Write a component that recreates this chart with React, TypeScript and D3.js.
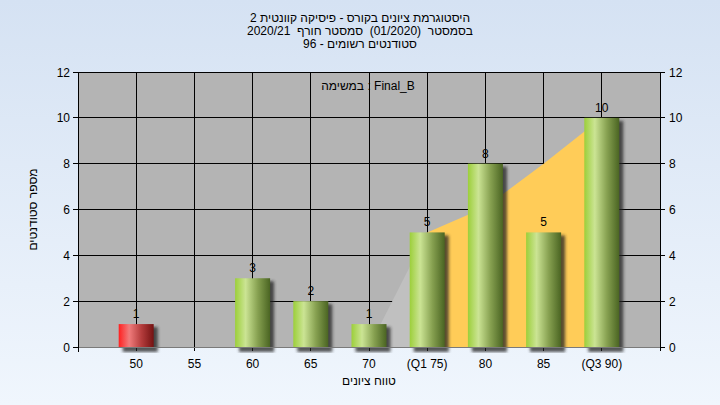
import React from "react";
import * as d3 from "d3";

const categories = ["50", "55", "60", "65", "70", "(Q1 75)", "80", "85", "(Q3 90)"];
const counts = [1, 0, 3, 2, 1, 5, 8, 5, 10];
const failFlags = [true, false, false, false, false, false, false, false, false];
// background band (outside Q1 shown gray, Q1..Q3 shown orange)
const grayBandCats = ["70", "(Q1 75)"];
const grayBandVals = [0, 5];
const orangeBandCats = ["(Q1 75)", "80", "85", "(Q3 90)"];
const orangeBandVals = [5, 6.1, 8, 10];
const yTicks = [0, 2, 4, 6, 8, 10, 12];
const titleLines = [
  "היסטוגרמת ציונים בקורס - פיסיקה קוונטית 2",
  "בסמסטר  (01/2020)  סמסטר חורף  2020/21",
  "סטודנטים רשומים - 96",
];
const xTitle = "טווח ציונים";
const yTitle = "מספר סטודנטים";
const noteText = "במשימה : Final_B";

const W = 720;
const H = 405;
const L = 78;
const R = 660;
const T = 72;
const B = 347;
const FONT = "'Liberation Sans', Arial, sans-serif";
const FS = 12;

export default function App() {
  const x = d3.scalePoint<string>().domain(categories).range([L, R]).padding(1);
  const y = d3.scaleLinear().domain([0, 12]).range([B, T]);
  const barW = 35;

  const area = d3
    .area<[string, number]>()
    .x((d) => x(d[0]) as number)
    .y0(y(0))
    .y1((d) => y(d[1]));

  const grayData: [string, number][] = grayBandCats.map((c, i) => [c, grayBandVals[i]]);
  const orangeData: [string, number][] = orangeBandCats.map((c, i) => [c, orangeBandVals[i]]);

  return (
    <svg width={W} height={H} style={{ position: "absolute", left: 0, top: 0, display: "block" }}>
      <defs>
        <linearGradient id="bg" x1="0" y1="0" x2="0" y2="1">
          <stop offset="0" stopColor="#d5e2f3" />
          <stop offset="1" stopColor="#f0f6fd" />
        </linearGradient>
        <linearGradient id="green" x1="0" y1="0" x2="1" y2="0">
          <stop offset="0" stopColor="#9ccf3a" />
          <stop offset="0.3" stopColor="#cbe494" />
          <stop offset="0.65" stopColor="#86a050" />
          <stop offset="1" stopColor="#4a6422" />
        </linearGradient>
        <linearGradient id="red" x1="0" y1="0" x2="1" y2="0">
          <stop offset="0" stopColor="#ff2020" />
          <stop offset="0.3" stopColor="#f07c7c" />
          <stop offset="0.65" stopColor="#b43c3c" />
          <stop offset="1" stopColor="#741212" />
        </linearGradient>
        <filter id="blur" x="-50%" y="-50%" width="200%" height="200%">
          <feGaussianBlur stdDeviation="1.6" />
        </filter>
        <clipPath id="plotClip">
          <rect x={L} y={T} width={R - L} height={B - T + 6} />
        </clipPath>
      </defs>
      <rect x={0} y={0} width={W} height={H} fill="url(#bg)" />

      {/* title */}
      {titleLines.map((t, i) => (
        <text
          key={i}
          x={360}
          y={22 + i * 13}
          textAnchor="middle"
          fontFamily={FONT}
          fontSize={FS}
          fill="#000"
          xmlSpace="preserve"
          style={{ whiteSpace: "pre" }}
        >
          {t}
        </text>
      ))}

      {/* plot background */}
      <rect x={L} y={T} width={R - L} height={B - T} fill="#b4b4b4" />

      {/* grid */}
      {yTicks.map((v) => (
        <line key={"gy" + v} x1={L} x2={R} y1={y(v)} y2={y(v)} stroke="#000" strokeWidth={1} shapeRendering="crispEdges" />
      ))}
      {categories.map((c) => (
        <line key={"gx" + c} x1={x(c)} x2={x(c)} y1={T} y2={B + 4} stroke="#000" strokeWidth={1} shapeRendering="crispEdges" />
      ))}

      {/* bands */}
      <path d={area(grayData) || ""} fill="#c0c0c0" />
      <path d={area(orangeData) || ""} fill="#ffcc58" />

      {/* plot border */}
      <line x1={L} x2={L} y1={T} y2={B + 4} stroke="#000" shapeRendering="crispEdges" />
      <line x1={R} x2={R} y1={T} y2={B + 4} stroke="#000" shapeRendering="crispEdges" />
      <line x1={L} x2={R} y1={T} y2={T} stroke="#000" shapeRendering="crispEdges" />

      {/* bar shadows */}
      <g clipPath="url(#plotClip)">
        {counts.map((v, i) =>
          v > 0 ? (
            <rect
              key={"s" + i}
              x={(x(categories[i]) as number) - barW / 2 + 4}
              y={y(v) + 3}
              width={barW}
              height={y(0) - y(v) + 2}
              fill="#202020"
              opacity={0.75}
              filter="url(#blur)"
            />
          ) : null
        )}
      </g>
      {/* bars */}
      {counts.map((v, i) =>
        v > 0 ? (
          <rect
            key={"b" + i}
            x={(x(categories[i]) as number) - barW / 2}
            y={y(v)}
            width={barW}
            height={y(0) - y(v)}
            fill={failFlags[i] ? "url(#red)" : "url(#green)"}
          />
        ) : null
      )}
      {counts.map((v, i) =>
        v > 0 ? (
          <text
            key={"l" + i}
            x={x(categories[i]) as number}
            y={y(v) - 6}
            textAnchor="middle"
            fontFamily={FONT}
            fontSize={FS}
            fill="#000"
          >
            {v}
          </text>
        ) : null
      )}

      {/* x axis line */}
      <line x1={L} x2={R} y1={B + 0.5} y2={B + 0.5} stroke="#7a7a7a" strokeWidth={1} />
      <line x1={L} x2={L} y1={B} y2={B + 5} stroke="#000" shapeRendering="crispEdges" />

      {/* y axes */}
      {yTicks.map((v) => (
        <g key={"ly" + v}>
          <line x1={L - 5} x2={L} y1={y(v)} y2={y(v)} stroke="#000" shapeRendering="crispEdges" />
          <text x={L - 8} y={y(v) + 4.5} textAnchor="end" fontFamily={FONT} fontSize={FS} fill="#000">
            {v}
          </text>
          <line x1={R} x2={R + 5} y1={y(v)} y2={y(v)} stroke="#000" shapeRendering="crispEdges" />
          <text x={R + 9} y={y(v) + 4.5} textAnchor="start" fontFamily={FONT} fontSize={FS} fill="#000">
            {v}
          </text>
        </g>
      ))}

      {/* x tick labels */}
      {categories.map((c) => (
        <text key={"xl" + c} x={x(c)} y={368} textAnchor="middle" fontFamily={FONT} fontSize={FS} fill="#000">
          {c}
        </text>
      ))}

      {/* axis titles */}
      <text x={(L + R) / 2} y={385} textAnchor="middle" fontFamily={FONT} fontSize={FS} fill="#000">
        {xTitle}
      </text>
      <text
        transform={`translate(37, ${(T + B) / 2}) rotate(-90)`}
        textAnchor="middle"
        fontFamily={FONT}
        fontSize={FS}
        fill="#000"
      >
        {yTitle}
      </text>

      {/* note */}
      <text x={368} y={90} textAnchor="middle" fontFamily={FONT} fontSize={FS} fill="#000">
        {noteText}
      </text>
    </svg>
  );
}
